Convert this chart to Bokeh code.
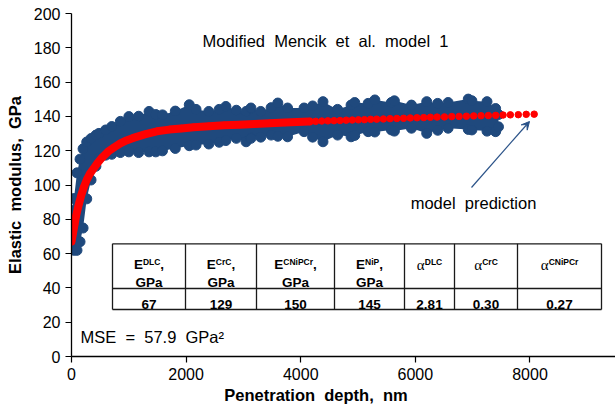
import numpy as np
from bokeh.plotting import figure
from bokeh.models import Range1d, FixedTicker, Arrow, VeeHead
from bokeh.embed import file_html
from bokeh.resources import INLINE
from bokeh.core.properties import value

# ---------------- data ----------------
data_depth = [0, 43, 96, 149, 202, 266, 341, 426, 479, 596, 703, 852, 1001, 1172, 1353, 1470,
              1587, 1811, 2055, 2173, 2396, 2577, 2694, 2876, 3046, 3131, 3302, 3483, 3600,
              3770, 4058, 4207, 4388, 4643, 4878, 4942, 5176, 5293, 5581, 5634, 5932, 6198,
              6390, 6571, 6923, 6986, 7250, 7400, 7450]
data_upper = [88, 95, 110, 118, 124, 128, 130, 132, 133, 135, 137, 140, 142.8, 143, 145.8, 144,
              143.8, 146, 149.7, 147, 145.8, 147, 148.7, 146.5, 145.8, 147.8, 145.8, 148, 150.7,
              147.8, 147.8, 149, 151.5, 147, 149.5, 151, 150.5, 152.5, 151, 152, 149.5, 151.5,
              150.5, 151, 153, 152, 151.5, 147.5, 144]
data_lower = [60, 59, 59, 64, 72, 89, 100, 108, 112.6, 114.5, 115, 116, 116.4, 116, 116.4, 116.4,
              117, 118.4, 120, 120.4, 121, 122, 123, 124.3, 122.3, 124.3, 125, 126.2, 125.5,
              125.2, 128.2, 125, 122.3, 126.2, 125.2, 126, 128.2, 128, 129.2, 128.5, 130.2, 127.2,
              129, 130.2, 129.5, 129.2, 128.5, 128.2, 131]

model_depth = [0, 27, 53, 80, 107, 138, 170, 213, 266, 320, 383, 447, 533, 639, 746, 852, 959,
               1065, 1278, 1491, 1704, 1917, 2130, 2396, 2663, 2929, 3195, 3461, 3728, 3941,
               4154, 4260, 4367, 4473, 4580, 4686, 4793, 4899, 5006, 5112, 5219, 5325, 5442,
               5559, 5676, 5794, 5911, 6028, 6145, 6262, 6379, 6507, 6635, 6763, 6891, 7018,
               7146, 7274, 7402, 7530, 7657, 7796, 7934, 8073]
model_E = [67, 72, 77, 82, 86, 90, 94, 98.5, 103, 106.5, 109.5, 112.5, 116, 119.5, 122, 124.3,
           126, 127.3, 129.5, 131.3, 132.3, 133, 133.7, 134.3, 134.8, 135.2, 135.6, 136, 136.4,
           136.7, 137, 137.1, 137.3, 137.4, 137.5, 137.6, 137.8, 137.9, 138, 138.1, 138.3, 138.4,
           138.5, 138.7, 138.8, 138.9, 139.1, 139.2, 139.3, 139.5, 139.6, 139.7, 139.9, 140,
           140.1, 140.3, 140.4, 140.5, 140.6, 140.8, 140.9, 141, 141.2, 141.3]

table_symbol = ["E", "E", "E", "E", "α", "α", "α"]
table_sup = ["DLC", "CrC", "CNiPCr", "NiP", "DLC", "CrC", "CNiPCr"]
table_unit = ["GPa", "GPa", "GPa", "GPa", "", "", ""]
table_values = ["67", "129", "150", "145", "2.81", "0.30", "0.27"]

x_ticks = [0, 2000, 4000, 6000, 8000]
y_ticks = [0, 20, 40, 60, 80, 100, 120, 140, 160, 180, 200]

SP = " \u00a0"  # wide (double) word space as in the original
title_text = SP.join(["Modified", "Mencik", "et", "al.", "model", "1"])
mse_text = SP.join(["MSE", "=", "57.9", "GPa²"])
pred_text = SP.join(["model", "prediction"])
# trailing no-break spaces shift the centred x title left, where the original has it
x_label = SP.join(["Penetration", "depth,", "nm"]) + "\u00a0" * 12
y_label = SP.join(["Elastic", "modulus,", "GPa"])

# ---------------- layout ----------------
W, H = 615, 412
B_LEFT, B_TOP, B_BOTTOM = 71, 13, 56
X_END = 9492.0
PX_PER_NM = (W - B_LEFT) / X_END
PX_PER_GPA = (H - B_TOP - B_BOTTOM) / 200.0
DESIGN_L, DESIGN_B = 72.0, 356.0   # design coordinates of the frame corner used below


def dx(px):
    return (px - DESIGN_L) / PX_PER_NM


def dy(py):
    return (DESIGN_B - py) / PX_PER_GPA


FONT = "Liberation Sans"
BLUE = "#1f497d"
RED = "#ff0000"
ARROW = "#2a5288"

p = figure(width=W, height=H, x_range=Range1d(0, X_END), y_range=Range1d(0, 200),
           output_backend="svg", toolbar_location=None,
           min_border_left=B_LEFT, min_border_right=0, min_border_top=B_TOP,
           min_border_bottom=B_BOTTOM)
p.outline_line_color = None
p.grid.visible = False
p.background_fill_color = "white"
p.border_fill_color = "white"

for ax in (p.xaxis, p.yaxis):
    ax.axis_line_color = "black"
    ax.axis_line_width = 1.3
    ax.major_tick_line_color = "black"
    ax.major_tick_line_width = 1.2
    ax.major_tick_out = 6
    ax.major_tick_in = 0
    ax.minor_tick_out = 0
    ax.minor_tick_in = 0
    ax.major_label_text_font = FONT
    ax.major_label_text_font_size = "16px"
    ax.major_label_text_color = "black"
    ax.axis_label_text_font = FONT
    ax.axis_label_text_font_size = "16.5px"
    ax.axis_label_text_font_style = "bold"
    ax.axis_label_text_color = "black"
    ax.major_label_standoff = 5

p.xaxis.ticker = FixedTicker(ticks=x_ticks)
p.yaxis.ticker = FixedTicker(ticks=y_ticks)
p.xaxis.axis_label = x_label
p.xaxis.axis_label_standoff = 3
p.yaxis.axis_label = y_label
p.yaxis.axis_label_standoff = 7

# ---------------- experimental data band ----------------
r = 5.0 / PX_PER_GPA
d = np.array(data_depth, dtype=float)
up = np.array(data_upper) - r
lo = np.array(data_lower) + r
p.varea(x=d, y1=lo, y2=up, fill_color=BLUE)
p.scatter(x=d, y=up, size=10, fill_color=BLUE, line_color=BLUE)
p.scatter(x=d, y=lo, size=10, fill_color=BLUE, line_color=BLUE)

# ---------------- model prediction ----------------
md = np.array(model_depth, dtype=float)
mE = np.array(model_E, dtype=float)
dense = md <= 4154
p.line(x=md[dense], y=mE[dense], line_color=RED, line_width=8, line_cap="round")
p.scatter(x=md, y=mE, size=6.5, fill_color=RED, line_color=RED)

# ---------------- texts ----------------
p.text(x=[dx(326)], y=[dy(40)], text=[title_text], text_font=value(FONT),
       text_font_size="16.5px", text_align="center", text_baseline="middle", text_color="black")
p.text(x=[dx(81)], y=[dy(336)], text=[mse_text], text_font=value(FONT),
       text_font_size="16.5px", text_align="left", text_baseline="middle", text_color="black")
p.text(x=[dx(474)], y=[dy(202)], text=[pred_text], text_font=value(FONT),
       text_font_size="16.5px", text_align="center", text_baseline="middle", text_color="black")

p.add_layout(Arrow(end=VeeHead(size=8, fill_color=ARROW, line_color=ARROW, line_width=1),
                   x_start=dx(472), y_start=dy(187), x_end=dx(530), y_end=dy(121),
                   line_color=ARROW, line_width=1.2))

# ---------------- parameter table ----------------
col_px = [113, 186, 257, 335, 405, 455, 518, 602]
row_px = [243.3, 288.0, 309.0]
TL = "#1a1a1a"
p.segment(x0=[dx(c) for c in col_px], y0=[dy(row_px[0])] * len(col_px),
          x1=[dx(c) for c in col_px], y1=[dy(row_px[-1])] * len(col_px),
          line_color=TL, line_width=1.3)
p.segment(x0=[dx(col_px[0])] * 3, y0=[dy(rp) for rp in row_px],
          x1=[dx(col_px[-1])] * 3, y1=[dy(rp) for rp in row_px],
          line_color=TL, line_width=1.3)

BOLD_W = {'E': .667, 'D': .722, 'L': .611, 'C': .722, 'r': .389, 'N': .722, 'i': .278,
          'P': .667, ',': .278}
SYM_PX, SUP_PX = 13.5, 8.5
line1_base, line2_base, val_base = 264.0, 281.5, 303.5

for i in range(len(table_values)):
    cx = 0.5 * (col_px[i] + col_px[i + 1])
    is_e = table_symbol[i] == "E"
    w_sym = (0.667 * SYM_PX) if is_e else 8.0
    w_sup = sum(BOLD_W.get(c, .6) for c in table_sup[i]) * SUP_PX
    w_com = 0.278 * SYM_PX if is_e else 0.0
    x0 = cx - (w_sym + w_sup + w_com) / 2.0
    p.text(x=[dx(x0)], y=[dy(line1_base)], text=[table_symbol[i]],
           text_font=value(FONT if is_e else "Liberation Serif"),
           text_font_size=f"{SYM_PX if is_e else 15}px",
           text_font_style="bold" if is_e else "normal",
           text_align="left", text_baseline="alphabetic", text_color="black")
    p.text(x=[dx(x0 + w_sym)], y=[dy(line1_base - 3)], text=[table_sup[i]],
           text_font=value(FONT), text_font_size=f"{SUP_PX}px", text_font_style="bold",
           text_align="left", text_baseline="alphabetic", text_color="black")
    if is_e:
        p.text(x=[dx(x0 + w_sym + w_sup)], y=[dy(line1_base)], text=[","],
               text_font=value(FONT), text_font_size=f"{SYM_PX}px", text_font_style="bold",
               text_align="left", text_baseline="alphabetic", text_color="black")
    if table_unit[i]:
        p.text(x=[dx(cx)], y=[dy(line2_base)], text=[table_unit[i]],
               text_font=value(FONT), text_font_size=f"{SYM_PX}px", text_font_style="bold",
               text_align="center", text_baseline="alphabetic", text_color="black")
    p.text(x=[dx(cx)], y=[dy(val_base)], text=[table_values[i]],
           text_font=value(FONT), text_font_size=f"{SYM_PX}px", text_font_style="bold",
           text_align="center", text_baseline="alphabetic", text_color="black")

open("out.html", "w").write(file_html(p, INLINE))
